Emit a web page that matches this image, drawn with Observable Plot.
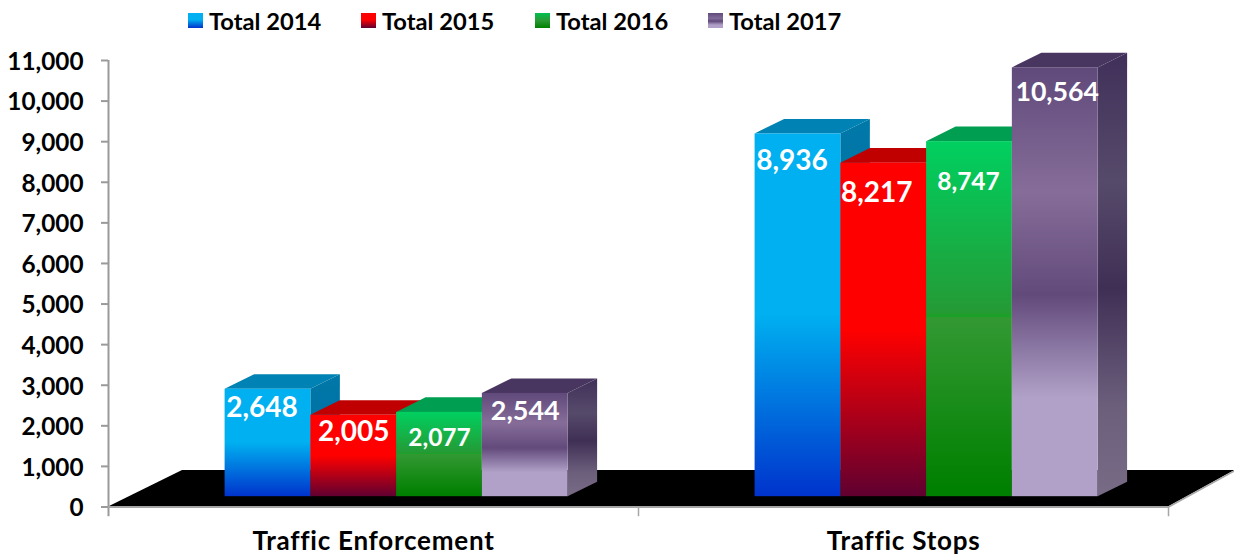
<!DOCTYPE html>
<html>
<head>
<meta charset="utf-8">
<script src="https://cdn.jsdelivr.net/npm/d3@7"></script>
<script src="https://cdn.jsdelivr.net/npm/@observablehq/plot@0.6"></script>
<style>
html,body{margin:0;padding:0;background:#fff;font-family:Lato,sans-serif;}
#legend{position:relative;height:40px;width:1234px;font:700 23.7px Lato,sans-serif;color:#000;}
#legend .sw{position:absolute;top:13px;width:15px;height:15px;}
#legend .tx{position:absolute;top:7px;line-height:28px;white-space:nowrap;}
svg{display:block;}
g[aria-label="x-axis tick label"] text{letter-spacing:.75px;}
</style>
</head>
<body>
<div id="legend"></div>
<div id="chart"></div>
<script>
const categories = ["Traffic Enforcement", "Traffic Stops"];
const seriesNames = ["Total 2014", "Total 2015", "Total 2016", "Total 2017"];
const total2014 = [2648, 8936];
const total2015 = [2005, 8217];
const total2016 = [2077, 8747];
const total2017 = [2544, 10564];
const yTicks = [0,1000,2000,3000,4000,5000,6000,7000,8000,9000,10000,11000];

const allSeries = [total2014, total2015, total2016, total2017];

// gradient stops: [offset, colour]
const frontStops = [
  [[0,"#00b0f0"],[.5,"#00b0f0"],[1,"#0033cc"]],
  [[0,"#ff0000"],[.5,"#ff0000"],[1,"#600030"]],
  [[0,"#00d060"],[.485,"#259a35"],[.487,"#1ca028"],[.495,"#1ca028"],[.497,"#339933"],[.98,"#008000"],[1,"#008000"]],
  [[0,"#604a7b"],[.29,"#866d99"],[.53,"#624a7b"],[.77,"#b1a1c8"],[1,"#b1a1c8"]]
];
const sideStops = [
  [[0,"#0078a8"],[1,"#0068a0"]],
  [[0,"#a00000"],[1,"#500020"]],
  [[0,"#009048"],[1,"#006000"]],
  [[0,"#40305a"],[.29,"#564a6a"],[.53,"#3f2f55"],[.8,"#6c5f7c"],[1,"#786b86"]]
];
const topFills = ["#0082b4", "#c00000", "#009e50", "#493660"];
const legendStops = [
  [[0,"#00b0f0"],[.45,"#00b0f0"],[1,"#0033cc"]],
  [[0,"#ff0000"],[.45,"#ff0000"],[1,"#600030"]],
  [[0,"#00c050"],[.5,"#2a9a35"],[1,"#008000"]],
  [[0,"#604a7b"],[.35,"#806a98"],[.55,"#624a7b"],[.8,"#b1a1c8"],[1,"#b1a1c8"]]
];

// layout constants in scale units
const barW = 85.75 / 530, groupStart = 116.6 / 530;
const depthX = 29.5 / 530, depthY = 358;
const lift = 254;                       // the bars stand on the floor, above the zero line
const floorX = 74 / 530, floorY = 900, floorEnd = 66 / 530;

// labels: nudges in pixels and font size per series, per category
const labelNudge = [
  [[-6, 19, 28],[-6, 27, 28]],
  [[0, 17, 28],[-7, 30, 28]],
  [[0, 26, 24.5],[-1, 41, 24.5]],
  [[0, 18, 27],[2, 25, 26.7]]
];

function defs() {
  const ns = "http://www.w3.org/2000/svg";
  const d = document.createElementNS(ns, "defs");
  const add = (id, stops) => {
    const g = document.createElementNS(ns, "linearGradient");
    g.setAttribute("id", id);
    g.setAttribute("x1", 0); g.setAttribute("x2", 0);
    g.setAttribute("y1", 0); g.setAttribute("y2", 1);
    for (const [o, c] of stops) {
      const s = document.createElementNS(ns, "stop");
      s.setAttribute("offset", o); s.setAttribute("stop-color", c);
      g.appendChild(s);
    }
    d.appendChild(g);
  };
  frontStops.forEach((s, i) => add("front" + i, s));
  sideStops.forEach((s, i) => add("side" + i, s));
  return d;
}

const marks = [() => defs()];

// floor
const floorRows = [
  {x: 0, y1: 0, y2: 0},
  {x: floorX, y1: 0, y2: floorY},
  {x: 2, y1: 0, y2: floorY},
  {x: 2 + floorEnd, y1: 890, y2: floorY}
];
marks.push(Plot.areaY(floorRows, {x: "x", y1: "y1", y2: "y2", fill: "#000"}));
marks.push(Plot.line([{x:2,y:0},{x:2+floorEnd,y:890}], {x:"x", y:"y", stroke:"#a6a6a6", strokeWidth:1.5}));

// bars
allSeries.forEach((vals, s) => {
  const bars = vals.map((v, c) => ({
    c, v,
    x1: c + groupStart + s * barW,
    x2: c + groupStart + (s + 1) * barW
  }));
  const side = bars.flatMap(b => [
    {c: b.c, x: b.x2, y1: lift, y2: lift + b.v},
    {c: b.c, x: b.x2 + depthX, y1: lift + depthY, y2: lift + b.v + depthY}
  ]);
  const top = bars.flatMap(b => {
    const t = lift + b.v;
    return [
      {c: b.c, x: b.x1, y1: t, y2: t},
      {c: b.c, x: b.x1 + depthX, y1: t, y2: t + depthY},
      {c: b.c, x: b.x2, y1: t, y2: t + depthY},
      {c: b.c, x: b.x2 + depthX, y1: t + depthY, y2: t + depthY}
    ];
  });
  marks.push(Plot.areaY(side, {x: "x", y1: "y1", y2: "y2", z: "c", fill: `url(#side${s})`}));
  marks.push(Plot.areaY(top, {x: "x", y1: "y1", y2: "y2", z: "c", fill: topFills[s]}));
  marks.push(Plot.rect(bars, {x1: "x1", x2: "x2", y1: lift, y2: d => lift + d.v, fill: `url(#front${s})`, inset: 0}));
});

// value labels
allSeries.forEach((vals, s) => vals.forEach((v, c) => {
  const [nx, ny, fs] = labelNudge[s][c];
  marks.push(Plot.text([v], {
    x: () => c + groupStart + (s + .5) * barW,
    y: d => lift + d,
    text: d => d3.format(",")(d),
    dx: nx, dy: ny,
    fill: "#fff", fontSize: fs, fontWeight: 700, fontFamily: "Lato, sans-serif",
    lineAnchor: "middle", textAnchor: "middle"
  }));
}));

// axes
marks.push(Plot.ruleX([0], {y1: -240, y2: 11000, stroke: "#9a9a9a", strokeWidth: 2}));
marks.push(Plot.ruleY([0], {x1: 0, x2: 2, stroke: "#a6a6a6", strokeWidth: 2}));
marks.push(Plot.ruleX([1, 2], {y1: -240, y2: 0, stroke: "#a6a6a6", strokeWidth: 1.5}));
marks.push(Plot.axisY({
  ticks: yTicks, tickSize: 7, text: null, stroke: "#9a9a9a", strokeWidth: 2, label: null
}));
marks.push(Plot.axisY({
  ticks: yTicks, tickSize: 0, tickPadding: 25, dy: 1.5, tickFormat: d3.format(","),
  fill: "#000",
  fontSize: 24.3, fontWeight: 700, fontFamily: "Lato, sans-serif", label: null
}));
marks.push(Plot.axisX({
  ticks: [.5, 1.5], tickSize: 0, tickPadding: 24.5,
  tickFormat: d => categories[Math.floor(d)],
  fill: "#000", fontSize: 26, fontWeight: 700, fontFamily: "Lato, sans-serif", label: null
}));

const chart = Plot.plot({
  width: 1234, height: 516,
  marginLeft: 108, marginRight: 66, marginTop: 20, marginBottom: 49.5,
  x: {domain: [0, 2]},
  y: {domain: [0, 11000]},
  style: {background: "transparent", overflow: "visible"},
  marks
});
document.getElementById("chart").appendChild(chart);

// legend
const legend = document.getElementById("legend");
const swatchLeft = [188, 361, 535, 708];
seriesNames.forEach((n, i) => {
  const sw = document.createElement("div");
  sw.className = "sw";
  sw.style.left = swatchLeft[i] + "px";
  sw.style.background = "linear-gradient(180deg," + legendStops[i].map(([o, c]) => `${c} ${o * 100}%`).join(",") + ")";
  legend.appendChild(sw);
  const tx = document.createElement("div");
  tx.className = "tx";
  tx.style.left = swatchLeft[i] + 21 + "px";
  tx.textContent = n;
  legend.appendChild(tx);
});
</script>
</body>
</html>
